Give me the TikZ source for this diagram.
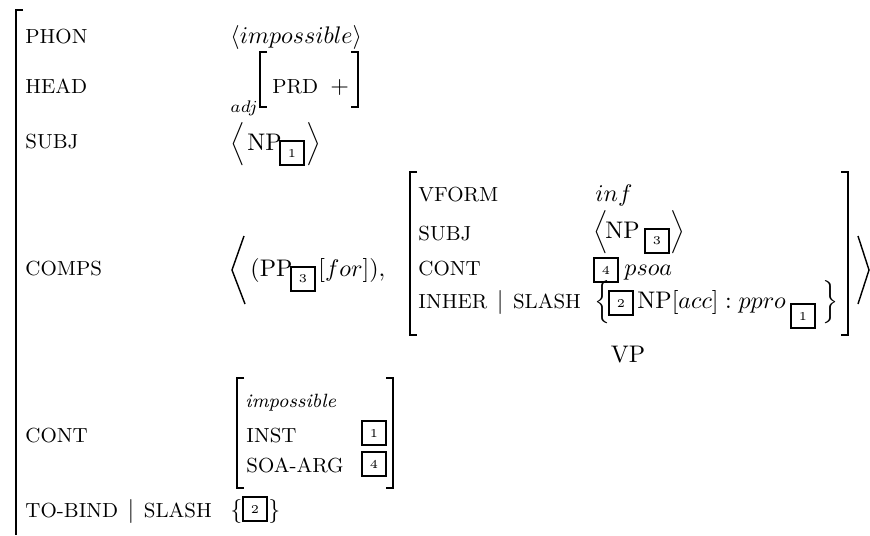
\documentclass[tikz,border=0pt]{standalone}
\usepackage{amsmath}
\newcommand\lblfont{\fontsize{8.5}{10}\selectfont}
\newcommand\pth{\hspace{4pt}{\normalsize$|$}\hspace{4pt}}
\tikzset{
  lab/.style={anchor=base west, inner sep=0pt, font=\lblfont},
  val/.style={anchor=base west, inner sep=0pt},
  tagbox/.style={draw, line width=0.8pt, minimum width=10pt, minimum height=10pt, inner sep=0pt, font=\tiny},
  brk/.style={line width=0.6pt},
}
\begin{document}
\begin{tikzpicture}[x=0.41667pt, y=-0.41667pt]
\useasboundingbox (0,0) rectangle (870,535);
% outer bracket
\draw[brk, line width=0.8pt] (23,10) -- (16,10) -- (16,535);
% PHON
\node[lab] (phon) at (25,43) {PHON};
\node[val] (phonv) at (230,43) {$\langle impossible\rangle$};
% HEAD
\node[lab] (head) at (25,93) {HEAD};
\node[val] (adj) at (230,112) {$\scriptstyle adj$};
\draw[brk] (267,52) -- (260,52) -- (260,107) -- (267,107);
\node[lab] (prd) at (272,93) {PRD};
\node[val] (plus) at (330,93) {$+$};
\draw[brk] (351,52) -- (358,52) -- (358,107) -- (351,107);
% SUBJ
\node[lab] (subj) at (25,148) {SUBJ};
\node[val] (sl) at (230,150) {$\Big\langle$};
\node[val] (np1) at (247,150) {NP};
\node[tagbox] (t1a) at (292,153) {1};
\node[val] (sr) at (306,150) {$\Big\rangle$};
% COMPS
\node[lab] (comps) at (25,275) {COMPS};
\draw[brk] (244,236) -- (232,270) -- (245,304);
\node[val] (pp) at (250,276) {(PP};
\node[tagbox] (t3a) at (303,279) {3};
\node[val] (for) at (318,276) {$[for]),$};
% inner VP AVM
\draw[brk] (417,172) -- (410,172) -- (410,335) -- (417,335);
\node[lab] (vform) at (418,201) {VFORM};
\node[val] (inf) at (595,201) {$inf$};
\node[lab] (subj2) at (418,240) {SUBJ};
\node[val] (sl2) at (593,238) {$\Big\langle$};
\node[val] (np3) at (605,238) {NP};
\node[tagbox] (t3b) at (657,241) {3};
\node[val] (sr2) at (670,238) {$\Big\rangle$};
\node[lab] (cont2) at (418,275) {CONT};
\node[tagbox] (t4a) at (606,270) {4};
\node[val] (psoa) at (624,275) {$psoa$};
\node[lab] (inher) at (418,308) {INHER\pth SLASH};
\node[val] (lb) at (594,308) {$\Big\{$};
\node[tagbox] (t2a) at (621,303) {2};
\node[val] (npacc) at (637,308) {$\mathrm{NP}[acc] : ppro$};
\node[tagbox] (t1b) at (803,316) {1};
\node[val] (rb) at (822,308) {$\Big\}$};
\draw[brk] (841,172) -- (848,172) -- (848,335) -- (841,335);
\node[val, anchor=base] (vp) at (628,362) {VP};
\draw[brk] (858,236) -- (869,270) -- (858,304);
% CONT
\node[lab] (cont) at (25,442) {CONT};
\draw[brk] (244,378) -- (237,378) -- (237,488) -- (244,488);
\node[val, font=\footnotesize\itshape] (imp) at (245,407) {impossible};
\node[lab] (inst) at (246,442) {INST};
\node[tagbox] (t1c) at (374,433) {1};
\node[lab] (soa) at (246,472) {SOA-ARG};
\node[tagbox] (t4b) at (374,464) {4};
\draw[brk] (386,378) -- (393,378) -- (393,488) -- (386,488);
% TO-BIND
\node[lab] (tobind) at (25,517) {TO-BIND\pth SLASH};
\node[val] (lb2) at (230,517) {$\{$};
\node[tagbox] (t2b) at (255,509) {2};
\node[val] (rb2) at (268,517) {$\}$};
\end{tikzpicture}
\end{document}
